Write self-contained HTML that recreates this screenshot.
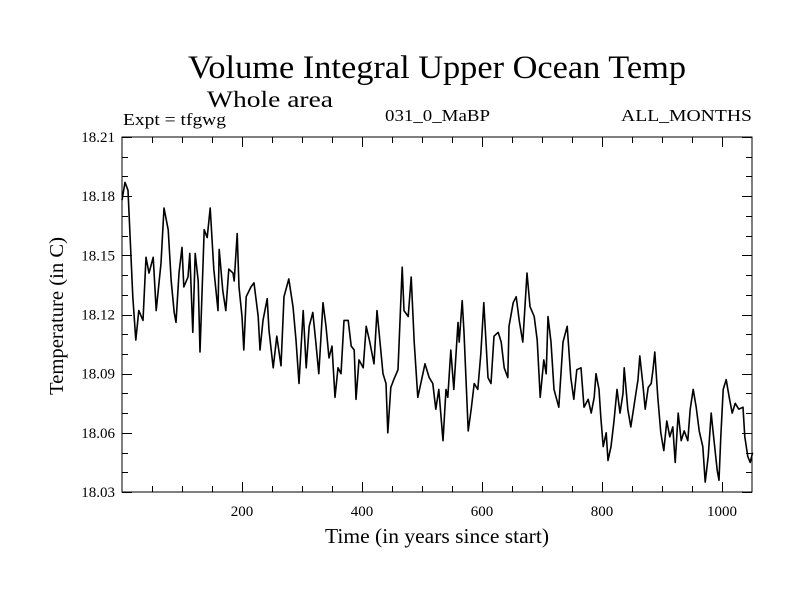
<!DOCTYPE html>
<html><head><meta charset="utf-8"><style>
html,body{margin:0;padding:0;background:#fff;}
svg{display:block;font-family:"Liberation Serif",serif;}
</style></head><body>
<svg id="chart" width="800" height="600">
<text x="188" y="78" font-size="33" textLength="498" lengthAdjust="spacingAndGlyphs">Volume Integral Upper Ocean Temp</text>
<text x="207" y="107" font-size="23" textLength="126" lengthAdjust="spacingAndGlyphs">Whole area</text>
<text x="123" y="125" font-size="17" textLength="103" lengthAdjust="spacingAndGlyphs">Expt = tfgwg</text>
<text x="385" y="121" font-size="17" textLength="105" lengthAdjust="spacingAndGlyphs">031_0_MaBP</text>
<text x="621" y="121" font-size="17" textLength="131" lengthAdjust="spacingAndGlyphs">ALL_MONTHS</text>
<text x="325" y="543" font-size="21" textLength="224" lengthAdjust="spacingAndGlyphs">Time (in years since start)</text>
<text transform="translate(63,316) rotate(-90)" font-size="20" text-anchor="middle" textLength="158" lengthAdjust="spacingAndGlyphs">Temperature (in C)</text>
<g id="axes"></g>
<g id="plot"></g>
<rect x="122" y="137" width="630" height="355" fill="none" stroke="#000" stroke-width="1"/>
</svg>
<script>
const years=[0,5,10,18,23,28,35,40,45,52,57,65,70,77,82,87,90,95,100,103,110,113,118,122,127,130,137,142,147,153,160,162,168,173,178,185,187,192,195,200,203,207,215,220,227,230,235,242,245,252,258,265,270,278,285,290,295,302,307,312,318,323,328,335,340,345,350,355,360,365,370,377,382,387,390,395,402,407,413,420,425,430,435,440,443,448,453,460,467,470,477,482,487,493,498,505,512,518,523,528,535,540,543,548,553,560,562,567,570,577,582,587,593,598,603,610,615,620,627,632,637,643,645,652,657,662,668,675,680,687,692,697,703,707,710,715,720,728,735,742,748,753,758,765,770,777,782,787,790,795,798,802,807,810,815,820,825,830,835,837,843,848,853,860,863,868,872,877,882,885,888,893,898,903,908,913,918,922,927,932,937,943,947,952,957,962,968,972,977,982,985,992,995,998,1002,1007,1012,1017,1022,1028,1035,1038,1043,1047,1051];
const temps=[18.178,18.187,18.183,18.129,18.107,18.122,18.117,18.149,18.141,18.149,18.122,18.146,18.174,18.163,18.137,18.121,18.116,18.141,18.154,18.134,18.139,18.151,18.111,18.151,18.137,18.101,18.163,18.159,18.174,18.143,18.122,18.153,18.132,18.122,18.143,18.141,18.137,18.161,18.134,18.119,18.102,18.129,18.134,18.136,18.119,18.102,18.117,18.128,18.112,18.093,18.109,18.094,18.129,18.138,18.124,18.107,18.085,18.122,18.093,18.114,18.121,18.106,18.090,18.126,18.114,18.098,18.104,18.078,18.093,18.090,18.117,18.117,18.104,18.102,18.077,18.097,18.093,18.114,18.106,18.095,18.122,18.106,18.090,18.085,18.060,18.083,18.087,18.092,18.144,18.122,18.119,18.139,18.106,18.078,18.085,18.095,18.088,18.085,18.072,18.082,18.056,18.082,18.078,18.102,18.082,18.116,18.106,18.127,18.111,18.061,18.072,18.085,18.082,18.100,18.126,18.088,18.085,18.109,18.111,18.106,18.093,18.088,18.114,18.126,18.129,18.117,18.106,18.141,18.124,18.119,18.107,18.078,18.097,18.090,18.119,18.106,18.082,18.073,18.106,18.114,18.088,18.077,18.092,18.093,18.073,18.077,18.070,18.078,18.090,18.082,18.068,18.053,18.060,18.046,18.053,18.066,18.082,18.070,18.080,18.093,18.072,18.063,18.073,18.087,18.099,18.085,18.072,18.083,18.085,18.092,18.101,18.078,18.060,18.051,18.066,18.058,18.063,18.045,18.070,18.056,18.061,18.056,18.072,18.082,18.073,18.061,18.053,18.035,18.048,18.070,18.061,18.041,18.036,18.058,18.082,18.087,18.078,18.070,18.075,18.072,18.073,18.058,18.048,18.045,18.050];
const yTickLabels=["18.03","18.06","18.09","18.12","18.15","18.18","18.21"];
const xTickLabels=["200","400","600","800","1000"];

const NS="http://www.w3.org/2000/svg";
const L=122,R=752,T=137,B=492,XMIN=0,XMAX=1050,YMIN=18.03,YMAX=18.21;
function xs(v){return L+(v-XMIN)/(XMAX-XMIN)*(R-L);}
function ys(v){return B-(v-YMIN)/(YMAX-YMIN)*(B-T);}
const axes=document.getElementById('axes');
function line(x1,y1,x2,y2,name){
  const l=document.createElementNS(NS,'line');
  l.setAttribute('x1',x1);l.setAttribute('y1',y1);l.setAttribute('x2',x2);l.setAttribute('y2',y2);
  l.setAttribute('stroke','#000');l.setAttribute('stroke-width','1');
  
  
  axes.appendChild(l);
}
for(let i=0;i<=18;i++){
  const v=YMIN+i*0.01, y=Math.round(ys(v))+0.5, len=(i%3===0)?10:6;
  line(L,y,L+len,y,'y-tick');line(R,y,R-len,y,'y-tick');
}
yTickLabels.forEach(s=>{
  const t=document.createElementNS(NS,'text');
  t.setAttribute('x',L-7);t.setAttribute('y',ys(parseFloat(s))+5);
  t.setAttribute('text-anchor','end');t.setAttribute('font-size','15');
  t.textContent=s;
  
  
  axes.appendChild(t);
});
for(let v=50;v<XMAX;v+=50){
  const x=Math.round(xs(v))+0.5, len=(v%200===0)?10:6;
  line(x,B,x,B-len,'x-tick');line(x,T,x,T+len,'x-tick');
}
xTickLabels.forEach(s=>{
  const t=document.createElementNS(NS,'text');
  t.setAttribute('x',xs(parseFloat(s)));t.setAttribute('y',516);
  t.setAttribute('text-anchor','middle');t.setAttribute('font-size','15');
  t.textContent=s;
  
  
  axes.appendChild(t);
});
const p=document.createElementNS(NS,'polyline');
p.setAttribute('points',years.map((y,i)=>xs(y).toFixed(1)+','+ys(temps[i]).toFixed(1)).join(' '));
p.setAttribute('fill','none');p.setAttribute('stroke','#000');p.setAttribute('stroke-width','1.6');
p.setAttribute('stroke-linejoin','round');


document.getElementById('plot').appendChild(p);
</script>
</body></html>
